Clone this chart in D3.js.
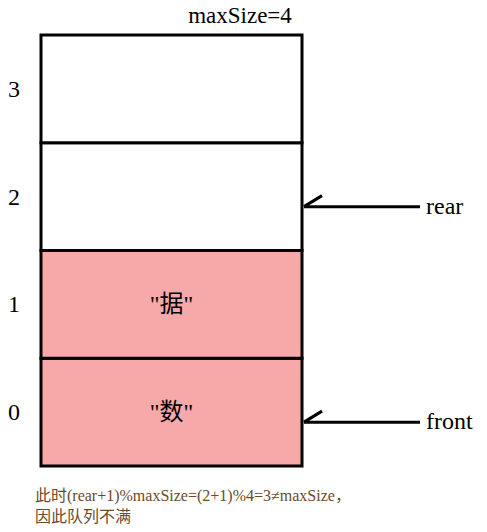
<!DOCTYPE html>
<html><head><meta charset="utf-8">
<script src="https://cdn.jsdelivr.net/npm/d3@7"></script>
<style>body{margin:0;background:#fff} text{font-family:"Liberation Serif","DejaVu Serif","Noto Sans CJK SC",serif}</style>
</head><body>
<script>
// queue slots, bottom to top
const slots = [0, 1, 2, 3];
const contents = ["\"数\"", "\"据\"", "", ""];
const pointers = [{name: "front", slot: 0}, {name: "rear", slot: 2}];
const maxSize = 4;
const note = ["此时(rear+1)%maxSize=(2+1)%4=3≠maxSize，", "因此队列不满"];

const svg = d3.select("body").append("svg").attr("width", 487).attr("height", 532);

const y = d3.scaleBand().domain(slots).range([466, 35]).padding(0);
const x0 = 41, x1 = 302;

svg.append("text").attr("x", 240).attr("y", 23).attr("text-anchor", "middle")
  .attr("font-size", 23).text("maxSize=" + maxSize);

const cell = svg.selectAll("g.cell").data(slots).enter().append("g");
cell.append("rect")
  .attr("x", x0).attr("y", d => y(d)).attr("width", x1 - x0).attr("height", y.bandwidth())
  .attr("fill", d => contents[d] ? "#f7a8a9" : "#fff")
  .attr("stroke", "#000").attr("stroke-width", 3);
cell.append("text").attr("x", (x0 + x1) / 2).attr("y", d => y(d) + y.bandwidth() / 2 + 8)
  .attr("text-anchor", "middle").attr("font-size", 24).text(d => contents[d]);
cell.append("text").attr("x", 14).attr("y", d => y(d) + y.bandwidth() / 2 + 8)
  .attr("text-anchor", "middle").attr("font-size", 24).text(d => d);

const p = svg.selectAll("g.ptr").data(pointers).enter().append("g");
const py = d => y(d.slot) + y.bandwidth() / 2 + 10;
p.append("line").attr("x1", x1 + 2).attr("x2", 420).attr("y1", py).attr("y2", py)
  .attr("stroke", "#000").attr("stroke-width", 3);
p.append("line").attr("x1", x1 + 2).attr("y1", py).attr("x2", x1 + 20).attr("y2", d => py(d) - 11)
  .attr("stroke", "#000").attr("stroke-width", 3);
p.append("text").attr("x", 426).attr("y", d => py(d) + 7)
  .attr("font-size", 24).text(d => d.name);

svg.selectAll("text.note").data(note).enter().append("text")
  .attr("x", 35).attr("y", (d, i) => 501 + i * 21)
  .attr("fill", "#6b4a2a").attr("font-size", 16).text(d => d);
</script>
</body></html>
